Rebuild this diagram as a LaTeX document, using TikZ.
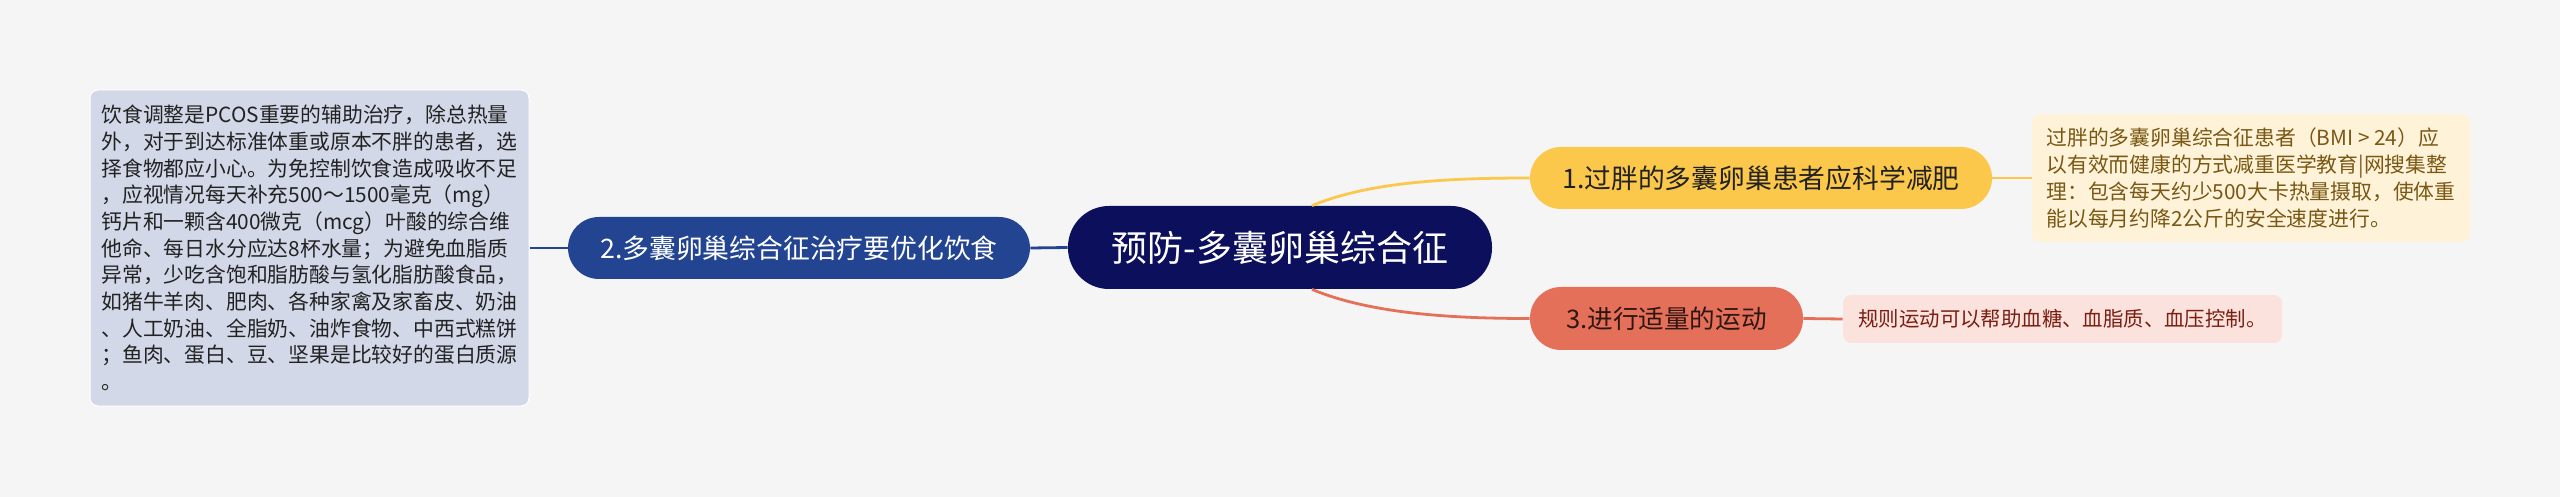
\documentclass[tikz,border=0pt]{standalone}
\usepackage{fontspec}
\setmainfont{Noto Sans CJK SC}
\definecolor{bgc}{HTML}{F5F5F5}
\definecolor{navy}{HTML}{0B0F5C}
\definecolor{blue2}{HTML}{234591}
\definecolor{lav}{HTML}{D3D8E8}
\definecolor{yel}{HTML}{FBC84B}
\definecolor{yelbox}{HTML}{FEF3D9}
\definecolor{yeltext}{HTML}{7A5814}
\definecolor{red3}{HTML}{E5705A}
\definecolor{pinkbox}{HTML}{FBE2DC}
\definecolor{pinktext}{HTML}{7A1E12}
\definecolor{dtext}{HTML}{222222}
\tikzset{
  topic/.style={rounded corners=#1, inner sep=0pt, align=center},
  detail/.style={rounded corners=4pt, inner sep=0pt, align=left},
  bline/.style={draw=blue2, line width=1.4pt},
  yline/.style={draw=yel, line width=1.4pt},
  rline/.style={draw=red3, line width=1.4pt},
}
\begin{document}
\begin{tikzpicture}[x=0.5pt,y=-0.5pt]
\fill[bgc] (0,0) rectangle (2560,497);
\useasboundingbox (0,0) rectangle (2560,497);
% nodes
\node[topic=20.5pt, fill=navy, text=white, minimum width=212pt, minimum height=41.5pt,
      font=\fontsize{18}{20}\selectfont] (c) at (1280,247.5) {预防-多囊卵巢综合征};
\node[topic=15.5pt, fill=blue2, text=white, minimum width=231pt, minimum height=31pt,
      font=\fontsize{13.4}{16}\selectfont] (n2) at (799,248) {2.多囊卵巢综合征治疗要优化饮食};
\node[topic=15.5pt, fill=yel, text=dtext, minimum width=231pt, minimum height=31pt,
      font=\fontsize{13.4}{16}\selectfont] (n1) at (1761,178) {1.过胖的多囊卵巢患者应科学减肥};
\node[topic=15.5pt, fill=red3, text={black!80!red3}, minimum width=136.5pt, minimum height=31.5pt,
      font=\fontsize{12.8}{15}\selectfont] (n3) at (1666.5,318.5) {3.进行适量的运动};
\node[detail, fill=lav, draw=white, line width=0.5pt, text=dtext, minimum width=219.5pt, minimum height=158pt,
      font=\fontsize{10.4}{13.35}\selectfont] (d2) at (309.5,248) {饮食调整是PCOS重要的辅助治疗，除总热量\\
外，对于到达标准体重或原本不胖的患者，选\\
择食物都应小心。为免控制饮食造成吸收不足\\
，应视情况每天补充500～1500毫克（mg）\\
钙片和一颗含400微克（mcg）叶酸的综合维\\
他命、每日水分应达8杯水量；为避免血脂质\\
异常，少吃含饱和脂肪酸与氢化脂肪酸食品，\\
如猪牛羊肉、肥肉、各种家禽及家畜皮、奶油\\
、人工奶油、全脂奶、油炸食物、中西式糕饼\\
；鱼肉、蛋白、豆、坚果是比较好的蛋白质源\\
。};
\node[detail, fill=yelbox, text=yeltext, minimum width=219pt, minimum height=64pt,
      font=\fontsize{10.4}{13.35}\selectfont] (d1) at (2251,178) {过胖的多囊卵巢综合征患者（BMI > 24）应\\
以有效而健康的方式减重医学教育|网搜集整\\
理：包含每天约少500大卡热量摄取，使体重\\
能以每月约降2公斤的安全速度进行。};
\node[detail, fill=pinkbox, text=pinktext, minimum width=219.5pt, minimum height=24pt,
      font=\fontsize{10.2}{13}\selectfont] (d3) at (2062.5,319) {规则运动可以帮助血糖、血脂质、血压控制。};
% connectors
\draw[bline] (d2.east) -- (n2.west);
\draw[bline] (n2.east) -- (c.west);
\draw[yline] (n1.east) -- (d1.west);
\draw[rline] (n3.east) -- (d3.west);
\draw[yline] ([xshift=16pt]c.north) .. controls +(58,-24) and +(-80,0) .. (n1.west);
\draw[rline] ([xshift=16pt]c.south) .. controls +(58,24) and +(-80,0) .. (n3.west);
\end{tikzpicture}
\end{document}
